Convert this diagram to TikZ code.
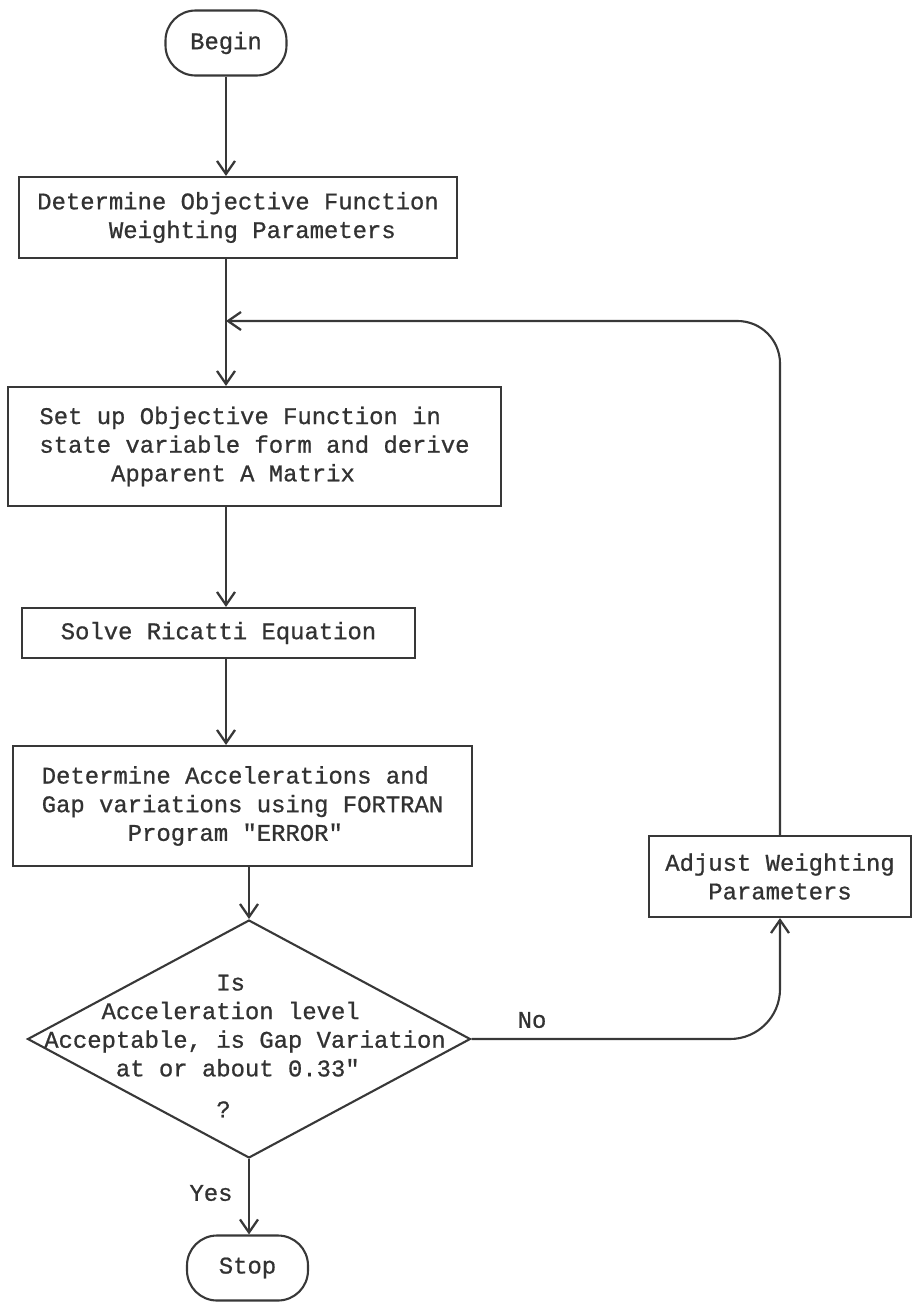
\documentclass[tikz,border=0pt]{standalone}
\usepackage{fontspec}
\setmonofont{Liberation Mono}[RawFeature={embolden=0.8}]
\usetikzlibrary{shapes.geometric,arrows.meta}
\definecolor{ink}{gray}{0.22}

\begin{document}
\begin{tikzpicture}[x=0.02cm,y=-0.02cm,line width=1.2pt,
  every node/.style={font=\ttfamily\fontsize{13.6}{16.3}\selectfont,text=ink!90!black},
  box/.style={draw=ink,rectangle,inner sep=0pt,align=left},
  term/.style={draw=ink,rectangle,rounded corners=0.6cm,minimum width=2.42cm,minimum height=1.3cm},
  decision/.style={draw=ink,diamond,inner sep=0pt,minimum width=8.86cm,minimum height=4.76cm},
  flow/.style={draw=ink,-{Straight Barb[length=2.6mm,width=3.6mm,line width=1.3pt]}}]
\useasboundingbox (0,0) rectangle (914,1305);

% Main column
\node[term] (begin) at (226,43) {Begin};
\node[box,minimum width=8.76cm,minimum height=1.62cm] (det) at (238,217.5)
  {Determine Objective Function\\\phantom{xxxxx}Weighting Parameters};
\node[box,minimum width=9.86cm,minimum height=2.38cm] (setup) at (254.5,446.5)
  {Set up Objective Function in\\state variable form and derive\\\phantom{xxxxx}Apparent A Matrix};
\node[box,minimum width=7.86cm,minimum height=1cm] (ricatti) at (218.5,633) {Solve Ricatti Equation};
\node[box,minimum width=9.18cm,minimum height=2.4cm] (accel) at (242.5,806)
  {Determine Accelerations and\\Gap variations using FORTRAN\\\phantom{xxxxxx}Program "ERROR"};

% Decision
\node[decision] (dec) at (249,1039) {};
\node[align=left] (dectext) at (245,1046)
  {\phantom{xxxxxxxxxxxx}Is\\\phantom{xxxx}Acceleration level\\Acceptable, is Gap Variation\\\phantom{xxxxx}at or about 0.33"\\[7pt]\phantom{xxxxxxxxxxxx}?};
\node[term] (stop) at (247.5,1268) {Stop};

% Feedback branch
\node[box,align=center,minimum width=5.24cm,minimum height=1.62cm] (adj) at (780,876.5)
  {Adjust Weighting\\Parameters};
\coordinate (merge) at (226,321);

% Connectors
\draw[flow] (begin.south) -- (begin.south |- det.north);
\draw[flow] (det.south -| begin) -- (begin |- setup.north);
\draw[flow] (setup.south -| begin) -- (begin |- ricatti.north);
\draw[flow] (ricatti.south -| begin) -- (begin |- accel.north);
\draw[flow] (accel.south -| dec.north) -- (dec.north);
\draw[flow] (dec.south) -- (dec.south |- stop.north);
\draw[flow,rounded corners=1cm] (dec.east) -| (adj.south);
\draw[flow,rounded corners=0.85cm] (adj.north) |- (merge);

% Labels
\node (no) at (532,1020) {No};
\node (yes) at (211,1193) {Yes};
\end{tikzpicture}
\end{document}
